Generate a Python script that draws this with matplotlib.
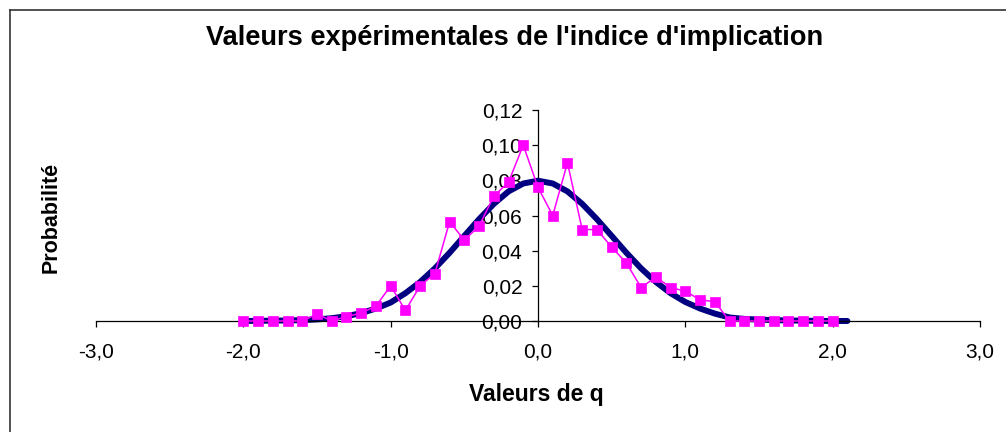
import matplotlib
matplotlib.use("Agg")
import matplotlib.pyplot as plt
from matplotlib.lines import Line2D

plt.rcParams['font.family'] = ['Liberation Sans', 'DejaVu Sans']

# Experimental values (magenta squares)
q_exp = [-2.0, -1.9, -1.8, -1.7, -1.6, -1.5, -1.4, -1.3, -1.2, -1.1,
         -1.0, -0.9, -0.8, -0.7, -0.6, -0.5, -0.4, -0.3, -0.2, -0.1,
         0.0, 0.1, 0.2, 0.3, 0.4, 0.5, 0.6, 0.7, 0.8, 0.9,
         1.0, 1.1, 1.2, 1.3, 1.4, 1.5, 1.6, 1.7, 1.8, 1.9, 2.0]
p_exp = [0.000, 0.000, 0.000, 0.000, 0.000, 0.004, 0.000, 0.0025, 0.0045, 0.0085,
         0.020, 0.006, 0.020, 0.027, 0.0565, 0.046, 0.054, 0.071, 0.079, 0.100,
         0.076, 0.060, 0.090, 0.052, 0.052, 0.042, 0.033, 0.019, 0.025, 0.019,
         0.017, 0.012, 0.011, 0.000, 0.000, 0.000, 0.000, 0.000, 0.000, 0.000, 0.000]

# Theoretical curve (dark blue)
q_th = [-2.0, -1.9, -1.8, -1.7, -1.6, -1.5, -1.4, -1.3, -1.2, -1.1,
        -1.0, -0.9, -0.8, -0.7, -0.6, -0.5, -0.4, -0.3, -0.2, -0.1,
        0.0, 0.1, 0.2, 0.3, 0.4, 0.5, 0.6, 0.7, 0.8, 0.9,
        1.0, 1.1, 1.2, 1.3, 1.4, 1.5, 1.6, 1.7, 1.8, 1.9, 2.0, 2.1]
p_th = [0.0000, 0.0001, 0.0002, 0.0003, 0.0005, 0.0009, 0.0016, 0.0027, 0.0045, 0.0071,
        0.0105, 0.0158, 0.0222, 0.0299, 0.0388, 0.0484, 0.0579, 0.0666, 0.0737, 0.0782,
        0.0798, 0.0782, 0.0737, 0.0666, 0.0579, 0.0484, 0.0388, 0.0299, 0.0222, 0.0158,
        0.0108, 0.0071, 0.0042, 0.0020, 0.0012, 0.0008, 0.0005, 0.0003, 0.0002, 0.0001, 0.0000, 0.0000]

x_ticks = [-3, -2, -1, 0, 1, 2, 3]
x_ticklabels = ["-3,0", "-2,0", "-1,0", "0,0", "1,0", "2,0", "3,0"]
y_ticks = [0.00, 0.02, 0.04, 0.06, 0.08, 0.10, 0.12]
y_ticklabels = ["0,00", "0,02", "0,04", "0,06", "0,08", "0,10", "0,12"]

title = "Valeurs expérimentales de l'indice d'implication"
xlabel = "Valeurs de q"
ylabel = "Probabilité"

W, H = 1006, 432
fig = plt.figure(figsize=(W / 100, H / 100), dpi=100)

# chart frame (extends past the right/bottom edges)
fig.add_artist(Line2D([10 / W, 10 / W], [0, 1 - 10 / H], transform=fig.transFigure,
                      color='#333333', lw=1.2))
fig.add_artist(Line2D([10 / W, 1], [1 - 10 / H, 1 - 10 / H], transform=fig.transFigure,
                      color='#333333', lw=1.2))

left, right = 96 / W, 980 / W
bottom, top = (H - 321) / H, (H - 110) / H
ax = fig.add_axes([left, bottom, right - left, top - bottom])
ax.set_xlim(-3, 3)
ax.set_ylim(0, 0.12)
ax.patch.set_alpha(0)

ax.spines['top'].set_visible(False)
ax.spines['right'].set_visible(False)
ax.spines['left'].set_position(('data', 0))
ax.spines['left'].set_zorder(0)
for s in ('left', 'bottom'):
    ax.spines[s].set_color('black')
    ax.spines[s].set_linewidth(0.9)

ax.set_xticks(x_ticks)
ax.set_xticklabels(x_ticklabels)
ax.set_yticks(y_ticks)
ax.set_yticklabels(y_ticklabels)
ax.tick_params(axis='x', direction='out', length=4.3, width=0.9, pad=11, labelsize=15)
ax.tick_params(axis='y', direction='out', length=4.3, width=0.9, pad=7, labelsize=15)

ax.plot(q_th, p_th, color='#000080', lw=4.3, solid_capstyle='round', zorder=2,
        clip_on=False)
ax.plot(q_exp, p_exp, color='#FF00FF', lw=1.1, marker='s', markersize=7.5,
        markerfacecolor='#FF00FF', markeredgecolor='#FF00FF', markeredgewidth=0.5,
        zorder=3, clip_on=False)

fig.text(515 / W, 1 - 38 / H, title, ha='center', va='center', fontsize=19.6,
         fontweight='bold')
fig.text(536 / W, 1 - 394 / H, xlabel, ha='center', va='center', fontsize=16.5,
         fontweight='bold')
fig.text(51 / W, 1 - 217 / H, ylabel, ha='center', va='center', fontsize=15.5,
         fontweight='bold', rotation=90)

fig.savefig("out.png", dpi=100)
